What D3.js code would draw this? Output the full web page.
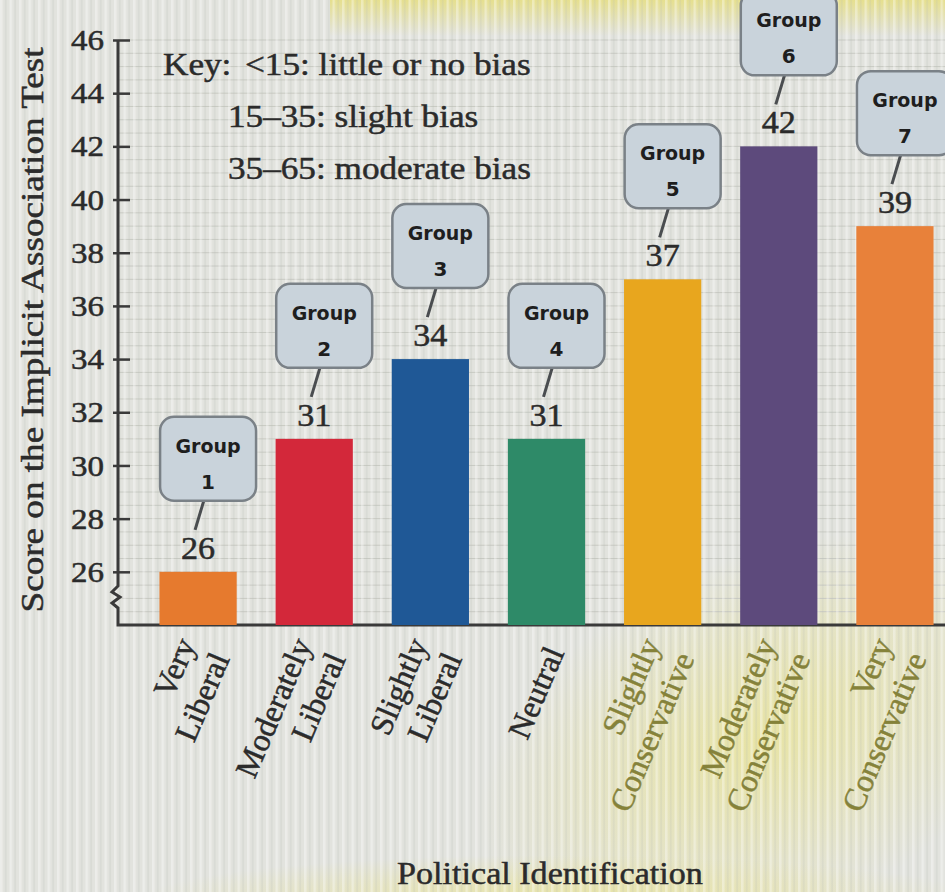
<!DOCTYPE html>
<html>
<head>
<meta charset="utf-8">
<script src="https://cdn.jsdelivr.net/npm/d3@7"></script>
<style>
  body { margin: 0; background: #e3e4df; }
  svg { display: block; }
  .serif { font-family: "Liberation Serif", "DejaVu Serif", serif; fill: #2b2b2b; stroke: #2b2b2b; stroke-width: 0.5px; }
</style>
</head>
<body>
<div class="chart"></div>
<script>
const categories = ["Very Liberal", "Moderately Liberal", "Slightly Liberal", "Neutral",
  "Slightly Conservative", "Moderately Conservative", "Very Conservative"];
const scores = [26, 31, 34, 31, 37, 42, 39];
const groupNumbers = ["1", "2", "3", "4", "5", "6", "7"];
const barColors = ["#e67a2e", "#d3283a", "#1f5896", "#2e8a68", "#e8a61e", "#5d4a7c", "#e8813a"];
const labelColors = ["#2b2b2b", "#2b2b2b", "#2b2b2b", "#2b2b2b", "#85823a", "#85823a", "#85823a"];
const yTicks = [26, 28, 30, 32, 34, 36, 38, 40, 42, 44, 46];
const keyLines = ["<15: little or no bias", "15–35: slight bias", "35–65: moderate bias"];

const W = 945, H = 892;
const axisX = 118, baseY = 625, topY = 40;
const stretch = 1.1; // the photo widens the lettering a little

const svg = d3.select(".chart").append("svg")
  .attr("width", W)
  .attr("height", H);

const defs = svg.append("defs");

// screen moire stripes
const stripes = defs.append("pattern")
  .attr("id", "stripes")
  .attr("width", 9.5)
  .attr("height", 10)
  .attr("patternUnits", "userSpaceOnUse");
stripes.append("rect").attr("width", 2.5).attr("height", 10).attr("fill", "#ffffff").attr("opacity", 0.35);
stripes.append("rect").attr("x", 5).attr("width", 1.5).attr("height", 10).attr("fill", "#b9bbb4").attr("opacity", 0.25);

const topGlow = defs.append("linearGradient").attr("id", "topGlow")
  .attr("x1", 0).attr("y1", 0).attr("x2", 0).attr("y2", 1);
topGlow.append("stop").attr("offset", 0).attr("stop-color", "#e6df86").attr("stop-opacity", 0.9);
topGlow.append("stop").attr("offset", 1).attr("stop-color", "#e6df86").attr("stop-opacity", 0);

const glow = defs.append("radialGradient").attr("id", "glow")
  .attr("cx", 0.5).attr("cy", 0.5).attr("r", 0.5);
glow.append("stop").attr("offset", 0).attr("stop-color", "#e9e49a").attr("stop-opacity", 0.85);
glow.append("stop").attr("offset", 1).attr("stop-color", "#e9e49a").attr("stop-opacity", 0);

svg.append("rect").attr("width", W).attr("height", H).attr("fill", "#e2e3de");
svg.append("rect").attr("x", 330).attr("y", 0).attr("width", 615).attr("height", 36).attr("fill", "url(#topGlow)");
svg.append("ellipse").attr("cx", 760).attr("cy", 740).attr("rx", 300).attr("ry", 180)
  .attr("fill", "url(#glow)").attr("transform", "rotate(-25,760,740)");
svg.append("ellipse").attr("cx", 560).attr("cy", 900).attr("rx", 420).attr("ry", 45)
  .attr("fill", "url(#glow)");

const y = d3.scaleLinear().domain([24, 46]).range([baseY, topY]);
const x = d3.scaleBand()
  .domain(categories)
  .range([140, 953])
  .paddingInner(0.335)
  .paddingOuter(0.1675);

// faint graph-paper grid
svg.append("g")
  .selectAll("line")
  .data(d3.range(24.5, 46.01, 0.5))
  .join("line")
  .attr("x1", axisX)
  .attr("x2", W)
  .attr("y1", d => y(d))
  .attr("y2", d => y(d))
  .attr("stroke", "#c8cac3")
  .attr("stroke-width", 1);

svg.append("rect").attr("width", W).attr("height", H).attr("fill", "url(#stripes)");

// y axis
const yAxis = d3.axisLeft(y).tickValues(yTicks).tickSize(-12).tickPadding(12);
const yG = svg.append("g")
  .attr("transform", "translate(" + axisX + ",0)")
  .call(yAxis);
yG.select(".domain").remove();
yG.selectAll(".tick line").attr("x1", -5).attr("stroke", "#3a3a3a").attr("stroke-width", 2.5);
yG.selectAll(".tick text")
  .attr("class", "serif")
  .attr("transform", "scale(" + stretch + ",1)")
  .attr("x", -14 / stretch)
  .style("font-size", "30px");

// axis line with break
svg.append("path")
  .attr("d", "M" + axisX + "," + topY + " L" + axisX + "," + 586 +
    " L" + (axisX - 6) + "," + 592 + " L" + (axisX + 2) + "," + 597 +
    " L" + (axisX - 6) + "," + 603 + " L" + axisX + "," + 608 +
    " L" + axisX + "," + baseY + " L" + W + "," + baseY)
  .attr("fill", "none")
  .attr("stroke", "#3a3a3a")
  .attr("stroke-width", 3);

// bars
svg.append("g")
  .selectAll("rect")
  .data(scores)
  .join("rect")
  .attr("x", (d, i) => x(categories[i]))
  .attr("y", d => y(d))
  .attr("width", x.bandwidth())
  .attr("height", d => baseY - y(d))
  .attr("fill", (d, i) => barColors[i]);

// value labels
svg.append("g")
  .selectAll("text")
  .data(scores)
  .join("text")
  .attr("class", "serif")
  .attr("transform", (d, i) => "translate(" + (x(categories[i]) + x.bandwidth() / 2) + "," + (y(d) - 13) + ") scale(" + stretch + ",1)")
  .attr("text-anchor", "middle")
  .style("font-size", "31px")
  .text(d => d);

// group callouts
const callouts = svg.append("g")
  .selectAll("g")
  .data(scores)
  .join("g")
  .attr("transform", (d, i) => "translate(" + (x(categories[i]) + x.bandwidth() / 2) + "," + y(d) + ")");

callouts.append("line")
  .attr("x1", 6).attr("y1", -72)
  .attr("x2", -3).attr("y2", -42)
  .attr("stroke", "#4a4d50")
  .attr("stroke-width", 3);

callouts.append("rect")
  .attr("x", -38)
  .attr("y", -155)
  .attr("width", 96)
  .attr("height", 84)
  .attr("rx", 14)
  .attr("fill", "#c9d3db")
  .attr("stroke", "#7a8187")
  .attr("stroke-width", 2.5);

callouts.append("text")
  .attr("x", 10)
  .attr("y", -119)
  .attr("text-anchor", "middle")
  .style("font-family", "DejaVu Sans")
  .style("font-weight", "bold")
  .style("font-size", "19px")
  .attr("fill", "#1e1e1e")
  .text("Group");

callouts.append("text")
  .attr("x", 10)
  .attr("y", -83)
  .attr("text-anchor", "middle")
  .style("font-family", "DejaVu Sans")
  .style("font-weight", "bold")
  .style("font-size", "20px")
  .attr("fill", "#1e1e1e")
  .text((d, i) => groupNumbers[i]);

// category labels, rotated
const catG = svg.append("g")
  .selectAll("text")
  .data(categories)
  .join("text")
  .attr("class", "serif")
  .attr("transform", d => "translate(" + (x(d) + x.bandwidth() / 2 - 2) + "," + 644 + ") rotate(-67)")
  .attr("text-anchor", "end")
  .style("font-size", "32px")
  .style("fill", (d, i) => labelColors[i])
  .style("stroke", (d, i) => labelColors[i]);

catG.each(function (d) {
  const words = d.split(" ");
  const t = d3.select(this);
  if (words.length === 1) {
    t.append("tspan").attr("x", 0).attr("dy", 22).text(words[0]);
  } else {
    t.append("tspan").attr("x", 0).attr("dy", 0).text(words[0]);
    t.append("tspan").attr("x", 0).attr("dy", 37).text(words[1]);
  }
});

// key
const key = svg.append("g")
  .attr("class", "serif")
  .attr("transform", "translate(163,0) scale(" + stretch + ",1)")
  .style("font-size", "32px");
key.append("text").attr("x", 0).attr("y", 75).text("Key:");
key.selectAll("text.line")
  .data(keyLines)
  .join("text")
  .attr("class", "line")
  .attr("x", (d, i) => (i === 0 ? 82 : 65) / stretch)
  .attr("y", (d, i) => 75 + i * 52)
  .text(d => d);

// axis titles
svg.append("text")
  .attr("class", "serif")
  .attr("transform", "translate(43," + 330 + ") rotate(-90)")
  .attr("text-anchor", "middle")
  .attr("textLength", 565)
  .attr("lengthAdjust", "spacingAndGlyphs")
  .style("font-size", "32px")
  .text("Score on the Implicit Association Test");

svg.append("text")
  .attr("class", "serif")
  .attr("transform", "translate(550,884) scale(" + stretch + ",1)")
  .attr("text-anchor", "middle")
  .style("font-size", "31px")
  .text("Political Identification");
</script>
</body>
</html>
